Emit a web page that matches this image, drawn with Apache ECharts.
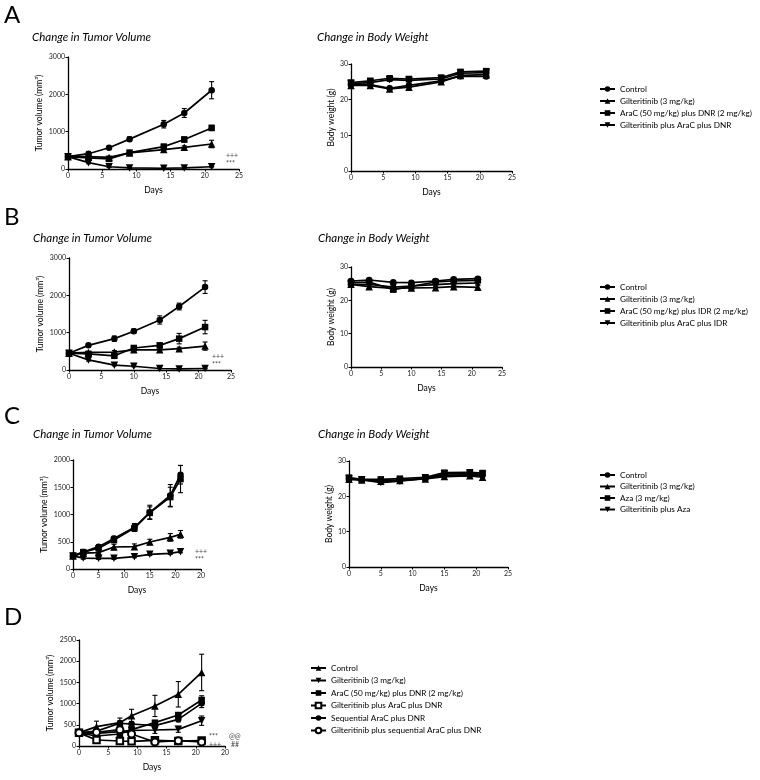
<!DOCTYPE html>
<html>
<head>
<meta charset="utf-8">
<script src="https://cdn.jsdelivr.net/npm/echarts@6/dist/echarts.min.js"></script>
<style>html,body{margin:0;padding:0;background:#fff}#c{width:760px;height:780px}</style>
</head>
<body>
<div id="c"></div>
<script>
// ---------- DATA ----------
const xTicksStd = ['0','5','10','15','20','25'];
const xTicksCD = ['0','5','10','15','20','20'];

// Panel A
const daysA = [0,3,6,9,14,17,21];
const namesA = ['Control','Gilteritinib (3 mg/kg)','AraC (50 mg/kg) plus DNR (2 mg/kg)','Gilteritinib plus AraC plus DNR'];
const tumA_ctrl = [330,410,570,800,1200,1500,2110];
const tumA_ctrl_err = [40,30,30,60,100,120,230];
const tumA_gilt = [330,330,310,430,520,580,670];
const tumA_gilt_err = [30,30,30,30,30,40,100];
const tumA_arac = [330,300,270,440,600,790,1100];
const tumA_arac_err = [30,30,30,40,60,70,70];
const tumA_combo = [330,170,60,30,20,30,60];
const tumA_combo_err = [30,30,20,10,10,10,10];
const bwA_ctrl = [24.2,24.2,23.2,24.0,25.3,26.6,26.5];
const bwA_gilt = [24.0,24.0,23.0,23.5,25.0,26.8,27.0];
const bwA_arac = [24.8,25.3,26.0,25.8,26.2,27.8,28.0];
const bwA_combo = [24.5,24.8,25.6,25.4,25.8,27.4,27.6];
const bwA_err = [0.5,0.5,0.5,0.5,0.5,0.5,0.5];

// Panel B
const daysB = [0,3,7,10,14,17,21];
const namesB = ['Control','Gilteritinib (3 mg/kg)','AraC (50 mg/kg) plus IDR (2 mg/kg)','Gilteritinib plus AraC plus IDR'];
const tumB_ctrl = [450,660,840,1040,1340,1700,2220];
const tumB_ctrl_err = [30,40,70,60,110,90,170];
const tumB_gilt = [450,470,480,540,540,570,640];
const tumB_gilt_err = [30,30,40,30,30,40,110];
const tumB_arac = [450,430,380,590,660,840,1150];
const tumB_arac_err = [30,30,60,50,60,140,180];
const tumB_combo = [450,270,130,100,40,30,40];
const tumB_combo_err = [30,30,20,15,10,10,10];
const bwB_ctrl = [25.8,26.1,25.4,25.3,25.8,26.3,26.5];
const bwB_gilt = [24.8,24.1,23.6,23.7,23.8,24.1,23.9];
const bwB_arac = [25.3,25.5,23.2,24.2,25.5,25.8,26.0];
const bwB_combo = [24.8,24.8,24.0,24.3,24.7,25.0,25.2];
const bwB_err = [0.5,0.5,0.5,0.5,0.5,0.5,0.5];

// Panel C
const daysC = [0,2,5,8,12,15,19,21];
const namesC = ['Control','Gilteritinib (3 mg/kg)','Aza (3 mg/kg)','Gilteritinib plus Aza'];
const tumC_ctrl = [240,310,410,560,765,1040,1350,1730];
const tumC_ctrl_err = [20,30,30,40,70,130,200,170];
const tumC_gilt = [240,290,300,404,410,495,580,636];
const tumC_gilt_err = [20,20,30,50,50,50,70,70];
const tumC_aza = [240,310,380,530,750,1030,1320,1650];
const tumC_aza_err = [20,30,30,40,60,110,180,250];
const tumC_combo = [240,200,196,196,226,269,287,318];
const tumC_combo_err = [20,20,20,20,20,20,20,20];
const bwC_ctrl = [25.0,24.7,24.4,24.6,25.0,26.0,26.1,26.0];
const bwC_gilt = [24.8,24.6,24.3,24.5,24.9,25.6,25.8,25.4];
const bwC_aza = [25.3,24.8,24.8,25.0,25.4,26.7,26.8,26.6];
const bwC_combo = [24.9,24.7,23.9,24.3,25.1,26.4,26.5,26.2];
const bwC_err = [0.5,0.5,0.5,0.5,0.5,0.5,0.5,0.5];

// Panel D
const daysD = [0,3,7,9,13,17,21];
const namesD = ['Control','Gilteritinib (3 mg/kg)','AraC (50 mg/kg) plus DNR (2 mg/kg)','Gilteritinib plus AraC plus DNR','Sequential AraC plus DNR','Gilteritinib plus sequential AraC plus DNR'];
const tumD_ctrl = [310,456,550,715,945,1220,1735];
const tumD_ctrl_err = [20,130,110,150,250,300,430];
const tumD_gilt = [310,300,338,370,377,393,597];
const tumD_gilt_err = [20,40,60,50,80,70,110];
const tumD_arac = [310,236,283,385,550,731,1085];
const tumD_arac_err = [20,40,40,40,50,50,100];
const tumD_giltArac = [310,141,118,110,135,118,130];
const tumD_giltArac_err = [20,20,20,20,20,20,20];
const tumD_seq = [310,350,535,519,480,629,1006];
const tumD_seq_err = [20,60,60,60,60,60,100];
const tumD_giltSeq = [310,322,385,283,94,126,94];
const tumD_giltSeq_err = [20,30,30,30,20,20,20];

// ---------- CHART ----------
const FONT = 'Lato, "Open Sans", sans-serif';
const INK = '#000';
const grids = [
  {left:68, top:57, width:171, height:112},   // A tumor
  {left:351, top:64, width:161, height:107},  // A bw
  {left:69, top:258, width:162, height:112},  // B tumor
  {left:351, top:267, width:151, height:100}, // B bw
  {left:73, top:460, width:128, height:109},  // C tumor
  {left:349, top:461, width:159, height:106}, // C bw
  {left:79, top:640, width:146, height:106}   // D tumor
].map(g => Object.assign({outerBoundsMode:'none', containLabel:false}, g));

function xAx(gi, labels){
  return {type:'value', gridIndex:gi, min:0, max:25, interval:5,
    name:'Days', nameLocation:'middle', nameGap:17,
    nameTextStyle:{fontFamily:FONT, fontSize:8.5, color:INK},
    axisLine:{show:true, onZero:false, lineStyle:{color:INK, width:1.3}},
    axisTick:{show:true, length:2.5, lineStyle:{color:INK, width:1}},
    axisLabel:{fontFamily:FONT, fontSize:7, color:'#222', margin:3,
      formatter:v=>labels[Math.round(v/5)]},
    splitLine:{show:false}};
}
function yAx(gi, max, interval, name, gap){
  return {type:'value', gridIndex:gi, min:0, max:max, interval:interval,
    name:name, nameLocation:'middle', nameGap:gap,
    nameTextStyle:{fontFamily:FONT, fontSize:8.5, color:INK},
    axisLine:{show:true, onZero:false, lineStyle:{color:INK, width:1.3}},
    axisTick:{show:true, length:2.5, lineStyle:{color:INK, width:1}},
    axisLabel:{fontFamily:FONT, fontSize:7, color:'#222', margin:3, formatter:v=>String(v)},
    splitLine:{show:false}};
}
const xAxes = [xAx(0,xTicksStd), xAx(1,xTicksStd), xAx(2,xTicksStd), xAx(3,xTicksStd), xAx(4,xTicksCD), xAx(5,xTicksStd), xAx(6,xTicksCD)];
const yAxes = [
  yAx(0,3000,1000,'Tumor volume (mm³)',24),
  yAx(1,30,10,'Body weight (g)',15),
  yAx(2,3000,1000,'Tumor volume (mm³)',24),
  yAx(3,30,10,'Body weight (g)',15),
  yAx(4,2000,500,'Tumor volume (mm³)',24),
  yAx(5,30,10,'Body weight (g)',15),
  yAx(6,2500,500,'Tumor volume (mm³)',24)
];

const series = [];
function errRender(params, api){
  const x = api.value(0), lo = api.value(1), hi = api.value(2);
  const a = api.coord([x, lo]), b = api.coord([x, hi]);
  const w = 2.5;
  const st = {stroke:INK, lineWidth:1.1};
  return {type:'group', children:[
    {type:'line', shape:{x1:a[0],y1:a[1],x2:b[0],y2:b[1]}, style:st},
    {type:'line', shape:{x1:a[0]-w,y1:a[1],x2:a[0]+w,y2:a[1]}, style:st},
    {type:'line', shape:{x1:b[0]-w,y1:b[1],x2:b[0]+w,y2:b[1]}, style:st}
  ]};
}
const SYM = {
  circle:{symbol:'circle', size:6.5, rot:0},
  tri:{symbol:'triangle', size:7.5, rot:0},
  sq:{symbol:'rect', size:6.5, rot:0},
  inv:{symbol:'triangle', size:7.5, rot:180},
  osq:{symbol:'emptyRect', size:6.5, rot:0},
  ocirc:{symbol:'emptyCircle', size:7, rot:0}
};
function add(gi, name, days, vals, errs, symKey){
  const s = SYM[symKey];
  series.push({type:'custom', xAxisIndex:gi, yAxisIndex:gi, z:2, silent:true,
    renderItem:errRender, encode:{x:0, y:[1,2]},
    data: days.map((d,i)=>[d, Math.max(0, vals[i]-errs[i]), vals[i]+errs[i]])});
  series.push({type:'line', name:name, xAxisIndex:gi, yAxisIndex:gi, z:3,
    data: days.map((d,i)=>[d, vals[i]]),
    symbol:s.symbol, symbolSize:s.size, symbolRotate:s.rot, showSymbol:true,
    lineStyle:{color:INK, width:1.7}, itemStyle:{color:INK, borderWidth: s.symbol.indexOf('empty')===0?1.4:0},
    animation:false});
}
// A
add(0, namesA[0], daysA, tumA_ctrl, tumA_ctrl_err, 'circle');
add(0, namesA[1], daysA, tumA_gilt, tumA_gilt_err, 'tri');
add(0, namesA[2], daysA, tumA_arac, tumA_arac_err, 'sq');
add(0, namesA[3], daysA, tumA_combo, tumA_combo_err, 'inv');
add(1, namesA[0], daysA, bwA_ctrl, bwA_err, 'circle');
add(1, namesA[1], daysA, bwA_gilt, bwA_err, 'tri');
add(1, namesA[2], daysA, bwA_arac, bwA_err, 'sq');
add(1, namesA[3], daysA, bwA_combo, bwA_err, 'inv');
// B
add(2, namesB[0], daysB, tumB_ctrl, tumB_ctrl_err, 'circle');
add(2, namesB[1], daysB, tumB_gilt, tumB_gilt_err, 'tri');
add(2, namesB[2], daysB, tumB_arac, tumB_arac_err, 'sq');
add(2, namesB[3], daysB, tumB_combo, tumB_combo_err, 'inv');
add(3, namesB[0], daysB, bwB_ctrl, bwB_err, 'circle');
add(3, namesB[1], daysB, bwB_gilt, bwB_err, 'tri');
add(3, namesB[2], daysB, bwB_arac, bwB_err, 'sq');
add(3, namesB[3], daysB, bwB_combo, bwB_err, 'inv');
// C
add(4, namesC[0], daysC, tumC_ctrl, tumC_ctrl_err, 'circle');
add(4, namesC[1], daysC, tumC_gilt, tumC_gilt_err, 'tri');
add(4, namesC[2], daysC, tumC_aza, tumC_aza_err, 'sq');
add(4, namesC[3], daysC, tumC_combo, tumC_combo_err, 'inv');
add(5, namesC[0], daysC, bwC_ctrl, bwC_err, 'circle');
add(5, namesC[1], daysC, bwC_gilt, bwC_err, 'tri');
add(5, namesC[2], daysC, bwC_aza, bwC_err, 'sq');
add(5, namesC[3], daysC, bwC_combo, bwC_err, 'inv');
// D (zero-width space keeps legend icons distinct from same-named series in A)
const ZW = '\u200B';
const namesDs = namesD.map((n,i)=> i<4 ? n+ZW : n);
add(6, namesDs[0], daysD, tumD_ctrl, tumD_ctrl_err, 'tri');
add(6, namesDs[1], daysD, tumD_gilt, tumD_gilt_err, 'inv');
add(6, namesDs[2], daysD, tumD_arac, tumD_arac_err, 'sq');
add(6, namesDs[3], daysD, tumD_giltArac, tumD_giltArac_err, 'osq');
add(6, namesDs[4], daysD, tumD_seq, tumD_seq_err, 'circle');
add(6, namesDs[5], daysD, tumD_giltSeq, tumD_giltSeq_err, 'ocirc');

function legendCfg(names, left, top, gap){
  return {data:names, orient:'vertical', left:left, top:top, padding:0,
    itemWidth:15, itemHeight:7, itemGap:gap, selectedMode:false,
    textStyle:{fontFamily:FONT, fontSize:8.2, color:INK}};
}
const legends = [
  legendCfg(namesA, 599, 85, 4),
  legendCfg(namesB, 599, 283, 4),
  legendCfg(namesC, 599, 471, 3.5),
  legendCfg(namesDs, 310, 664, 4.5)
];

function ttl(text, left, top, size, italic){
  return {text:text, left:left, top:top, padding:0,
    textStyle:{fontFamily:FONT, fontSize:size, fontWeight:'normal', fontStyle: italic?'italic':'normal', color:INK}};
}
const titles = [
  ttl('A', 4, 3, 24, false), ttl('B', 4, 205, 24, false), ttl('C', 4, 404, 24, false), ttl('D', 4, 605, 24, false),
  ttl('Change in Tumor Volume', 32, 31, 11.5, true), ttl('Change in Body Weight', 317, 31, 11.5, true),
  ttl('Change in Tumor Volume', 33, 232, 11.5, true), ttl('Change in Body Weight', 318, 232, 11.5, true),
  ttl('Change in Tumor Volume', 33, 428, 11.5, true), ttl('Change in Body Weight', 318, 428, 11.5, true)
];
function ann(text, x, y){
  return {type:'text', left:x, top:y, style:{text:text, fontFamily:FONT, fontSize:7, fill:'#444'}};
}
const graphics = [
  ann('+++', 226, 152), ann('***', 226, 160),
  ann('+++', 212, 353), ann('***', 212, 361),
  ann('+++', 195, 548), ann('***', 195, 556),
  ann('***', 209, 733), ann('@@', 229, 733),
  ann('+++', 209, 741), ann('##', 231, 741)
];

const chart = echarts.init(document.getElementById('c'), null, {renderer:'canvas'});
chart.setOption({
  backgroundColor:'#fff', animation:false,
  title:titles, grid:grids, xAxis:xAxes, yAxis:yAxes,
  legend:legends, series:series, graphic:graphics
});
</script>
</body>
</html>
